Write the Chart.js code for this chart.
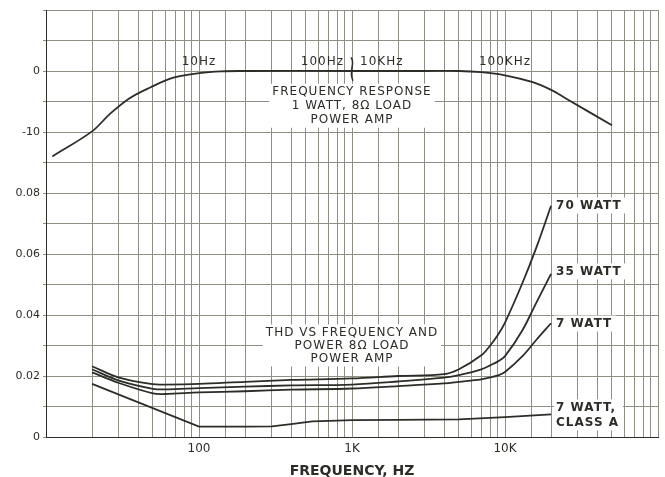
<!DOCTYPE html>
<html>
<head>
<meta charset="utf-8">
<script src="https://cdn.jsdelivr.net/npm/chart.js@4.4.1/dist/chart.umd.min.js"></script>
<style>
  html, body { margin: 0; padding: 0; background: #fff; }
  #wrap { width: 665px; height: 477px; }
</style>
</head>
<body>
<div id="wrap"><canvas id="chart" width="665" height="477"></canvas></div>
<script>
// THD vs frequency, power amp into 8 ohm
const thdFreq = [20, 30, 50, 60, 100, 200, 400, 1000, 2000, 4000, 5000, 7000, 8000, 9000, 10000, 13000, 16000, 20000];
const thd70W  = [0.0232, 0.0195, 0.0173, 0.0172, 0.0174, 0.0181, 0.0187, 0.0192, 0.0200, 0.0206, 0.0222, 0.0268, 0.0300, 0.0335, 0.0375, 0.0505, 0.0620, 0.0758];
const thd35W  = [0.0222, 0.0185, 0.0158, 0.0156, 0.0160, 0.0165, 0.0169, 0.0172, 0.0182, 0.0195, 0.0203, 0.0222, 0.0235, 0.0248, 0.0265, 0.0350, 0.0440, 0.0535];
const thd7W   = [0.0212, 0.0177, 0.0143, 0.0141, 0.0146, 0.0150, 0.0155, 0.0159, 0.0167, 0.0176, 0.0181, 0.0189, 0.0195, 0.0202, 0.0213, 0.0265, 0.0318, 0.0373];

const classAFreq = [20, 100, 200, 300, 400, 550, 800, 1000, 2000, 5000, 10000, 20000];
const thdClassA  = [0.0174, 0.0034, 0.0034, 0.0035, 0.0042, 0.0051, 0.0054, 0.0055, 0.0056, 0.0058, 0.0065, 0.0074];

// Frequency response, 1 watt (real Hz). The axis is broken at the centre:
// the low band is drawn one decade up, the high band one decade down.
const frLowHz  = [1.1, 2, 2.6, 3.5, 4.8, 6.8, 10, 14, 20, 100];
const frLowDb  = [-14, -9.9, -7.1, -4.5, -2.7, -1.1, -0.35, -0.05, 0, 0];
const frHighHz = [20000, 30000, 50000, 70000, 100000, 150000, 200000, 250000, 500000];
const frHighDb = [0, 0, 0, -0.2, -0.7, -1.8, -3.1, -4.5, -8.9];

// Tick labels
const xTickLabels = { 100: '100', 1000: '1K', 10000: '10K' };
const dbTickLabels = { 0: '0', '-10': '-10' };

const INK = '#2b2e27';
const GRID = '#8d9185';
const FONT = "'DejaVu Sans', sans-serif";

function pairs(xs, ys, fx) {
  return xs.map((x, i) => ({ x: fx ? fx(x) : x, y: ys[i] }));
}

const frData = pairs(frLowHz, frLowDb, f => f * 10).concat(pairs(frHighHz, frHighDb, f => f / 10));

function lineSet(label, data, axis, tension) {
  return {
    label: label,
    data: data,
    yAxisID: axis,
    borderColor: INK,
    borderWidth: 1.8,
    pointRadius: 0,
    fill: false,
    tension: tension
  };
}

// Text written on the chart
const notes = {
  id: 'notes',
  beforeDatasetsDraw(chart) {
    const ctx = chart.ctx;
    const x = chart.scales.x, y = chart.scales.y, yDb = chart.scales.yDb;
    ctx.save();
    ctx.fillStyle = INK;
    ctx.textBaseline = 'middle';
    ctx.letterSpacing = '1px';

    function block(lines, cx, cy, step, font, align) {
      ctx.font = font;
      ctx.textAlign = align || 'center';
      let w = 0;
      lines.forEach(t => { w = Math.max(w, ctx.measureText(t).width); });
      const left = align === 'left' ? cx - 2 : cx - w / 2 - 3;
      ctx.fillStyle = '#fff';
      ctx.fillRect(left, cy - 8, w + 6, step * (lines.length - 1) + 16);
      ctx.fillStyle = INK;
      lines.forEach((t, i) => ctx.fillText(t, cx, cy + i * step));
    }

    const mid = x.getPixelForValue(1000);
    block(['FREQUENCY RESPONSE', '1 WATT, 8\u03A9 LOAD', 'POWER AMP'], mid, yDb.getPixelForValue(-3.4), 14, '12px ' + FONT);
    block(['THD VS FREQUENCY AND', 'POWER 8\u03A9 LOAD', 'POWER AMP'], mid, y.getPixelForValue(0.0343), 13, '12px ' + FONT);

    const lx = x.getPixelForValue(20000) + 5;
    block(['70 WATT'], lx, y.getPixelForValue(0.0759), 0, 'bold 12px ' + FONT, 'left');
    block(['35 WATT'], lx, y.getPixelForValue(0.0543), 0, 'bold 12px ' + FONT, 'left');
    block(['7 WATT'], lx, y.getPixelForValue(0.0372), 0, 'bold 12px ' + FONT, 'left');
    block(['7 WATT,', 'CLASS A'], lx, y.getPixelForValue(0.0097), 15, 'bold 12px ' + FONT, 'left');

    ctx.font = '12px ' + FONT;
    ctx.textAlign = 'center';
    const ly = yDb.getPixelForValue(1.5);
    ctx.fillText('10Hz', x.getPixelForValue(100), ly);
    ctx.fillText('100KHz', x.getPixelForValue(10000), ly);
    ctx.textAlign = 'right';
    ctx.fillText('100Hz', mid - 8, ly);
    ctx.textAlign = 'left';
    ctx.fillText('10KHz', mid + 8, ly);
    ctx.restore();
  },
  afterDatasetsDraw(chart) {
    // break mark on the frequency response curve
    const ctx = chart.ctx;
    const bx = chart.scales.x.getPixelForValue(1000);
    const top = chart.scales.yDb.getPixelForValue(2.2);
    const bot = chart.scales.yDb.getPixelForValue(-1.6);
    const h = bot - top;
    ctx.save();
    ctx.strokeStyle = INK;
    ctx.lineWidth = 1.5;
    ctx.beginPath();
    ctx.moveTo(bx - 1, top);
    ctx.bezierCurveTo(bx + 4, top + h * 0.25, bx - 4, top + h * 0.55, bx + 1, bot);
    ctx.stroke();
    ctx.restore();
  }
};

new Chart(document.getElementById('chart'), {
  type: 'line',
  data: {
    datasets: [
      lineSet('Frequency response', frData, 'yDb', 0.35),
      lineSet('70 WATT', pairs(thdFreq, thd70W), 'y', 0.35),
      lineSet('35 WATT', pairs(thdFreq, thd35W), 'y', 0.35),
      lineSet('7 WATT', pairs(thdFreq, thd7W), 'y', 0.35),
      lineSet('7 WATT, CLASS A', pairs(classAFreq, thdClassA), 'y', 0)
    ]
  },
  options: {
    responsive: false,
    animation: false,
    layout: { padding: { top: 10, right: 7, left: 0, bottom: 0 } },
    plugins: { legend: { display: false }, tooltip: { enabled: false } },
    scales: {
      x: {
        type: 'logarithmic',
        min: 10,
        max: 100000,
        afterFit: s => { s.height = 40; },
        grid: { color: GRID, drawTicks: false, lineWidth: 1 },
        border: { color: INK, width: 1 },
        ticks: {
          autoSkip: false,
          maxRotation: 0,
          padding: 5,
          color: INK,
          font: { family: FONT, size: 12 },
          callback: v => xTickLabels[v] || ''
        },
        title: {
          display: true,
          text: 'FREQUENCY, HZ',
          color: INK,
          padding: { top: 0, bottom: -3 },
          font: { family: FONT, size: 14, weight: 'bold' }
        }
      },
      y: {
        type: 'linear',
        position: 'left',
        stack: 'left',
        stackWeight: 8,
        min: 0,
        max: 0.08,
        afterFit: s => { s.width = 46; },
        grid: { color: GRID, tickLength: 3, tickColor: GRID },
        border: { color: INK, width: 1 },
        ticks: {
          stepSize: 0.01,
          padding: 3,
          color: INK,
          font: { family: FONT, size: 11 },
          callback: v => {
            const n = Math.round(v * 100);
            if (n % 2 !== 0) return '';
            return n === 0 ? '0' : (n / 100).toFixed(2);
          }
        }
      },
      yDb: {
        type: 'linear',
        position: 'left',
        stack: 'left',
        stackWeight: 6,
        min: -20,
        max: 10,
        afterFit: s => { s.width = 46; },
        grid: { color: GRID, tickLength: 3, tickColor: GRID },
        border: { color: INK, width: 1 },
        ticks: {
          stepSize: 5,
          padding: 3,
          color: INK,
          font: { family: FONT, size: 11 },
          callback: v => dbTickLabels[v] || ''
        }
      }
    }
  },
  plugins: [notes]
});
</script>
</body>
</html>
